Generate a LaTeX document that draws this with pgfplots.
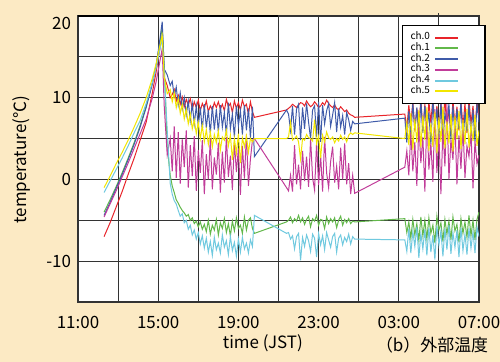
\documentclass[border=0pt]{standalone}
\usepackage{pgfplots}
\pgfplotsset{compat=1.18}
\usepackage{pgfplotstable}
\usepackage{fontspec}
\setmainfont{Noto Sans CJK JP}
\definecolor{bgc}{HTML}{FCEAC4}
\definecolor{c0}{HTML}{E8242A}
\definecolor{c1}{HTML}{62B84A}
\definecolor{c2}{HTML}{3F5BA9}
\definecolor{c3}{HTML}{C13C9A}
\definecolor{c4}{HTML}{6FC9DF}
\definecolor{c5}{HTML}{F2E600}
\pgfplotstableread{
t c0 c1 c2 c3 c4 c5
12.3 -7.0 -4.0 -4.4 -4.6 -1.6 -1.0
12.6 -5.3 -2.5 -2.8 -3.0 -0.2 0.4
12.9 -3.4 -0.9 -1.1 -1.4 1.2 1.9
13.2 -1.5 0.8 0.6 0.3 2.6 3.3
13.5 0.6 2.6 2.4 2.0 4.1 4.8
13.8 2.6 4.5 4.3 3.8 5.7 6.4
14.1 4.8 6.6 6.4 5.6 7.2 8.1
14.4 7.0 9.0 8.8 7.4 9.3 10.0
14.7 10.5 11.7 11.6 9.9 11.8 12.3
14.9 13.2 13.9 14.0 12.0 13.7 14.2
15.05 15.5 16.2 16.5 14.0 15.5 16.0
15.2 17.6 18.6 19.3 16.0 17.2 17.6
15.3 12.5 14.0 13.5 9.0 13.0 12.5
15.45 11.5 4.0 12.8 3.0 6.0 10.5
15.6 10.0 0.5 11.5 5.0 -0.5 11.0
15.7 10.4 -0.8 12.0 1.0 -1.8 9.5
15.8 11.0 -1.6 10.2 6.5 -2.6 10.6
15.9 9.6 -2.5 11.3 0.2 -3.0 8.8
16.0 10.3 -2.9 9.1 5.8 -3.8 9.9
16.1 9.2 -3.4 10.6 -0.5 -4.5 8.1
16.2 10.1 -3.8 8.6 4.9 -4.2 9.2
16.3 8.9 -4.1 10.0 1.5 -5.3 7.4
16.4 9.8 -4.5 7.9 6.0 -5.0 8.6
16.5 9.1 -4.3 9.6 -1.0 -6.1 6.8
16.6 9.9 -5.0 7.2 4.2 -5.6 8.0
16.7 8.6 -4.7 9.3 0.4 -6.8 6.2
16.8 9.5 -5.4 6.8 5.3 -6.2 7.3
16.9 8.8 -5.1 9.0 -1.4 -7.3 5.6
17.0 9.7 -5.8 6.5 3.6 -6.5 7.0
17.1 8.4 -5.2 8.8 0.8 -7.9 5.0
17.2 9.3 -6.1 6.0 4.8 -6.9 6.6
17.3 8.7 -5.5 9.2 -1.8 -8.4 4.6
17.4 9.6 -6.4 6.3 3.1 -7.2 6.1
17.5 8.3 -5.0 8.5 0.0 -8.9 4.3
17.6 9.0 -6.7 5.6 5.0 -7.6 5.8
17.7 8.5 -5.6 9.0 -1.2 -9.3 4.0
17.8 9.4 -6.2 6.1 2.7 -7.1 5.5
17.9 8.8 -4.9 8.6 0.6 -8.6 4.5
18.0 9.5 -6.8 5.8 4.5 -7.8 5.9
18.1 8.6 -5.3 9.1 -1.6 -9.0 3.6
18.2 9.2 -6.0 6.4 3.4 -6.8 5.2
18.3 8.4 -4.8 8.2 -0.4 -8.3 4.8
18.4 9.8 -6.5 5.4 5.2 -7.5 6.0
18.5 8.9 -5.4 9.4 0.3 -9.2 4.1
18.6 9.3 -6.9 6.2 2.9 -7.0 5.4
18.7 8.2 -5.1 8.0 -1.3 -8.7 2.4
18.8 9.6 -6.3 5.2 4.6 -7.7 5.0
18.9 8.7 -4.7 9.0 0.9 -9.4 3.2
19.0 9.4 -6.0 6.6 3.8 -7.3 5.6
19.1 8.5 -5.6 8.4 -1.9 -8.9 2.0
19.2 9.7 -6.6 5.5 4.1 -7.1 5.1
19.3 8.9 -4.6 9.1 0.1 -8.5 4.0
19.4 9.2 -6.2 6.0 5.5 -7.8 5.3
19.5 8.0 -5.0 8.7 -0.8 -9.0 3.3
19.6 9.5 -4.7 5.1 2.5 -7.4 5.0
19.7 8.3 -6.0 8.9 4.8 -8.2 4.6
19.8 7.6 -6.6 2.8 5.0 -4.4 5.0
21.4 8.5 -5.2 8.5 -1.0 -6.6 5.0
21.5 8.7 -5.0 8.0 -1.4 -6.5 5.2
21.6 8.9 -4.6 6.0 0.5 -7.3 7.0
21.7 9.2 -5.3 9.0 -1.5 -6.9 4.8
21.8 9.0 -4.8 5.5 4.2 -8.5 5.0
21.9 8.8 -5.1 8.6 -0.6 -7.0 5.3
22.0 9.1 -4.4 9.2 1.8 -6.6 4.6
22.1 9.4 -5.2 4.8 -1.2 -9.9 2.5
22.2 9.3 -4.7 8.8 3.5 -7.1 5.0
22.3 9.0 -5.5 6.2 -0.2 -8.2 4.8
22.4 9.6 -4.9 9.3 2.8 -6.8 5.5
22.5 9.2 -4.5 7.0 -0.9 -7.5 5.1
22.6 8.9 -5.8 5.0 5.0 -8.8 5.0
22.7 9.1 -4.8 8.5 0.2 -6.7 4.7
22.8 9.5 -5.1 9.0 -1.3 -7.2 7.3
22.9 9.2 -4.4 5.2 4.5 -9.5 4.4
23.0 8.8 -5.6 9.5 -0.7 -6.6 5.3
23.1 9.0 -4.9 4.6 3.0 -8.0 2.6
23.2 9.4 -5.0 9.1 -1.5 -6.9 5.4
23.3 9.1 -6.0 6.8 5.2 -8.6 4.6
23.4 9.7 -4.6 8.4 0.8 -6.5 5.8
23.5 9.3 -5.4 9.3 -1.0 -7.4 5.1
23.6 9.0 -4.8 6.5 2.2 -8.3 4.9
23.7 8.8 -5.2 7.9 4.0 -7.0 5.2
23.8 9.1 -4.7 9.4 -0.4 -6.6 4.5
23.9 8.7 -5.9 5.8 1.6 -8.9 5.0
24.0 8.5 -5.0 8.7 -1.2 -7.2 4.7
24.1 8.9 -4.5 6.4 3.9 -6.8 5.4
24.2 8.6 -5.6 7.8 0.0 -8.0 4.9
24.3 8.3 -4.9 5.5 4.4 -7.1 5.2
24.4 8.5 -5.3 8.2 -0.6 -7.6 4.6
24.5 8.1 -4.8 7.3 2.0 -6.7 5.4
24.6 7.9 -5.4 6.0 -1.8 -7.9 5.7
24.7 7.8 -5.1 7.1 0.5 -7.0 5.5
24.8 7.6 -5.2 6.8 -1.7 -7.3 5.7
27.3 8.0 -4.8 7.5 1.5 -7.4 5.0
27.4 6.2 -6.5 4.5 3.5 -8.8 7.0
27.5 9.1 -5.2 8.4 0.5 -6.0 4.2
27.6 6.8 -7.2 5.2 5.8 -9.0 8.1
27.7 9.5 -4.9 9.3 1.0 -6.4 3.6
27.8 5.9 -6.8 6.1 4.6 -8.2 7.4
27.9 8.7 -5.4 8.8 -0.8 -5.8 4.5
28.0 6.5 -7.5 4.8 6.8 -9.6 8.5
28.1 9.8 -4.6 9.6 2.0 -6.6 3.9
28.2 6.0 -6.9 5.7 5.2 -8.5 7.8
28.3 9.2 -5.0 9.0 -1.5 -6.1 4.8
28.4 5.6 -7.3 6.4 7.8 -9.3 8.8
28.5 9.6 -4.7 8.2 1.2 -5.9 3.5
28.6 6.9 -6.6 4.3 4.4 -8.9 6.9
28.7 10.0 -5.6 9.7 -0.3 -6.8 4.0
28.8 6.3 -7.8 6.0 8.6 -9.8 8.3
28.9 9.0 -4.5 8.7 0.8 -5.7 3.2
29.0 5.8 -6.2 5.0 5.6 -8.0 7.6
29.1 9.4 -5.3 9.4 -1.8 -6.3 4.6
29.2 6.7 -7.6 4.6 6.2 -9.4 8.9
29.3 9.9 -4.9 8.0 1.6 -6.0 3.8
29.4 6.1 -6.7 6.8 9.2 -8.6 7.1
29.5 8.6 -5.1 9.2 0.0 -5.6 4.4
29.6 5.5 -7.4 4.9 4.9 -9.1 8.0
29.7 9.7 -4.6 9.0 2.4 -6.5 3.4
29.8 6.6 -6.3 5.5 7.0 -8.3 7.7
29.9 8.9 -5.5 8.6 -0.6 -6.2 4.9
30.0 6.0 -7.7 6.2 5.4 -9.5 8.4
30.1 9.5 -4.8 9.5 1.3 -5.9 3.7
30.2 6.4 -6.6 4.4 6.6 -8.7 7.3
30.3 9.3 -5.2 8.3 0.2 -6.7 4.3
30.4 5.7 -7.1 5.9 4.1 -9.2 8.6
30.5 9.8 -4.4 9.1 2.8 -6.0 3.9
30.6 6.8 -6.9 5.3 5.9 -8.4 6.8
30.7 9.0 -5.0 8.5 -1.1 -6.4 4.7
30.8 6.2 -7.4 4.7 4.7 -9.0 7.9
30.9 9.6 -4.9 9.3 1.9 -5.8 4.1
31.0 7.5 -4.0 7.0 3.0 -7.0 6.0
}\data
\begin{document}
\begin{tikzpicture}
\path[use as bounding box, fill=bgc] (-39bp,-30bp) rectangle (211bp,151bp);
\begin{axis}[
  at={(0,0)}, anchor=south west,
  scale only axis, width=200.5bp, height=143bp,
  xmin=11, xmax=31, ymin=-15, ymax=20,
  xtick={11,13,...,31},
  xticklabels={11:00,,15:00,,19:00,,23:00,,03:00,,07:00},
  ytick={-15,-10,...,20},
  yticklabels={,-10,,0,,10,,},
  major tick length=0pt,
  grid=major,
  major grid style={black!80, line width=0.6pt},
  axis line style={black!80, line width=0.6pt},
  axis background/.style={fill=white},
  tick label style={font=\fontsize{8.5}{10}\selectfont, text=black},
  xticklabel style={yshift=-3.5bp},
  xlabel={time (JST)},
  xlabel style={at={(axis description cs:0.461,-0.143)}, anchor=center, font=\fontsize{8.5}{10}\selectfont},
  ylabel={temperature(℃)},
  ylabel style={at={(axis description cs:-0.14,0.497)}, anchor=center, font=\fontsize{8.5}{10}\selectfont},
  clip mode=individual,
  legend style={at={(axis description cs:0.808,0.969)}, anchor=north west, draw=black, line width=0.6pt,
    font=\fontsize{5}{5.5}\selectfont, inner xsep=2bp, inner ysep=1.5bp, row sep=-3.7bp,
    cells={anchor=west, text height=3.6bp, text depth=0.9bp, inner sep=0.6bp}},
  legend plot pos=right,
  legend image code/.code={\path[draw=none,fill=none] (0bp,0bp) -- (23bp,0bp);\draw[#1, line width=1pt] (0bp,0bp) -- (11.5bp,0bp);},
  every axis plot/.append style={line width=0.5pt, no marks},
]
\addplot[c0] table[x=t,y=c0]{\data};
\addplot[c1] table[x=t,y=c1]{\data};
\addplot[c2] table[x=t,y=c2]{\data};
\addplot[c3] table[x=t,y=c3]{\data};
\addplot[c4] table[x=t,y=c4]{\data};
\addplot[c5] table[x=t,y=c5]{\data};
\legend{ch.0,ch.1,ch.2,ch.3,ch.4,ch.5}
\draw[black, line width=1.2pt] (axis cs:11,20) -- (axis cs:21,20);
\draw[black!80, line width=0.6pt] (axis cs:29,20) -- (axis cs:29,20.35);
\node[anchor=east, yshift=-3.5bp, font=\fontsize{8.5}{10}\selectfont] at (axis cs:11,20) {20};
\node[anchor=center, font=\fontsize{8.5}{10}\selectfont] at (axis description cs:0.883,-0.15) {（b）外部温度};
\end{axis}
\end{tikzpicture}
\end{document}
